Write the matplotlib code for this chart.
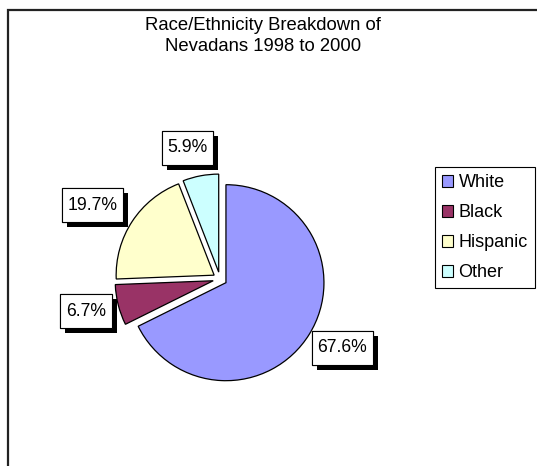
import matplotlib
matplotlib.use("Agg")
import matplotlib.pyplot as plt
from matplotlib.patches import Rectangle
from matplotlib.path import Path
import matplotlib.patheffects as pe

# ---- data ----
categories = ["White", "Black", "Hispanic", "Other"]
shares = [67.6, 6.7, 19.7, 5.9]
colors = ["#9999FF", "#993366", "#FFFFCC", "#CCFFFF"]
title = "Race/Ethnicity Breakdown of\nNevadans 1998 to 2000"

W, H = 537, 466
plt.rcParams['font.family'] = ['Liberation Sans', 'DejaVu Sans']
fig = plt.figure(figsize=(W / 100, H / 100), dpi=100)
fig.patch.set_facecolor("white")

# outer chart-area frame (left and top edges visible)
fig.patches.append(Rectangle((8 / W, -0.2), 1.2, 1.2 - 10 / H,
                             transform=fig.transFigure, fill=False,
                             lw=1.6, ec="#222222", zorder=0))

ax = fig.add_axes([0, 0, 1, 1])

center = (220, H - 279)
radius = 98
wedges, _ = ax.pie(shares, colors=colors, startangle=90, counterclock=False,
                   radius=radius, center=center, explode=[7] * len(shares),
                   wedgeprops=dict(edgecolor="black", linewidth=0.9),
                   frame=True)
ax.set_xlim(0, W)
ax.set_ylim(0, H)
ax.set_aspect("equal")
ax.axis("off")


def label_box(x0, y0, width, height, mutation_size):
    px = 0.32 * mutation_size
    py = 0.5 * mutation_size
    x0 -= px
    y0 -= py
    x1 = x0 + width + 2 * px
    y1 = y0 + height + 2 * py
    return Path([(x0, y0), (x1, y0), (x1, y1), (x0, y1), (x0, y0)],
                closed=True)


label_pos = [(342.5, 348), (86, 311), (92.5, 205), (187.5, 148)]
for v, (lx, ly) in zip(shares, label_pos):
    t = ax.text(lx, H - ly, f"{v:.1f}%", ha="center", va="center",
                fontsize=12.7, color="black",
                bbox=dict(boxstyle=label_box, fc="white", ec="black", lw=0.8))
    t.get_bbox_patch().set_path_effects([
        pe.withSimplePatchShadow(offset=(3.5, -3.5), shadow_rgbFace="black",
                                 alpha=1.0),
        pe.Normal()])

fig.text(263 / W, 1 - 36 / H, title, ha="center", va="center",
         fontsize=13.3, linespacing=1.35)

leg = fig.legend(wedges, categories, loc="upper left",
                 bbox_to_anchor=(435 / W, 1 - 167 / H),
                 frameon=True, fancybox=False, edgecolor="black",
                 framealpha=1, fontsize=13, handlelength=0.62,
                 handleheight=0.62, handletextpad=0.28, labelspacing=0.72,
                 borderpad=0.4, borderaxespad=0)
leg.get_frame().set_linewidth(0.8)
for h in leg.legend_handles:
    h.set_linewidth(0.8)

fig.savefig("out.png", dpi=100, facecolor="white")
